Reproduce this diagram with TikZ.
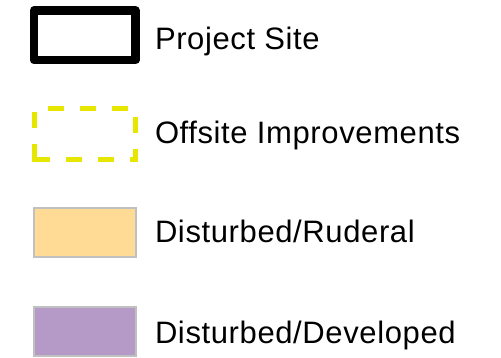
\documentclass[tikz,border=0pt]{standalone}
\usepackage{fontspec}
\setmainfont{Liberation Sans}[LetterSpace=2]
\definecolor{siteline}{RGB}{0,0,0}
\definecolor{offsiteyellow}{RGB}{230,230,0}
\definecolor{ruderalfill}{RGB}{255,219,150}
\definecolor{developedfill}{RGB}{181,154,199}
\definecolor{swatchedge}{RGB}{192,192,192}
\tikzset{
  swatch/.style={rectangle, inner sep=0pt, outer sep=0pt,
    minimum width=#1, anchor=north west},
  sitebox/.style={swatch=101.5pt, minimum height=49.5pt, draw=siteline,
    line width=8.5pt, line join=round},
  offsitebox/.style={swatch=101pt, minimum height=51pt},
  offsitedash/.style={draw=offsiteyellow, line width=5pt,
    line cap=butt, line join=miter},
  fillbox/.style={swatch=102pt, minimum height=49pt, draw=swatchedge,
    line width=2pt, fill=#1},
  legendtext/.style={anchor=base west, inner sep=0pt, outer sep=0pt,
    font=\fontsize{31pt}{36pt}\selectfont, text=black},
}
\begin{document}
\begin{tikzpicture}[x=1pt, y=-1pt]
  \useasboundingbox (0,0) rectangle (501,357);

  % swatches
  \node[sitebox] (site) at (34,10.5) {};
  \node[offsitebox] (offsite) at (34.5,108.5) {};
  % dashed outline of the offsite swatch, one dash at a time
  \begin{scope}[offsitedash]
    % top edge
    \draw (48,108.5) -- (64,108.5);
    \draw (80,108.5) -- (96,108.5);
    \draw (112,108.5) -- (128,108.5);
    % right edge and lower right corner
    \draw (135.5,117) -- (135.5,133);
    \draw (135.5,149) -- (135.5,159.5) -- (130,159.5);
    % bottom edge and lower left corner
    \draw (114,159.5) -- (98,159.5);
    \draw (82,159.5) -- (66,159.5);
    \draw (50,159.5) -- (34.5,159.5) -- (34.5,143.5);
    % left edge
    \draw (34.5,127.5) -- (34.5,111.5);
  \end{scope}
  \node[fillbox=ruderalfill] (ruderal) at (34,208) {};
  \node[fillbox=developedfill] (developed) at (34,306.5) {};

  % labels
  \node[legendtext] (sitelabel) at (155,49) {Project Site};
  \node[legendtext] (offsitelabel) at (155,143) {Offsite Improvements};
  \node[legendtext] (ruderallabel) at (155,242) {Disturbed/Ruderal};
  \node[legendtext] (developedlabel) at (155,343) {Disturbed/Developed};
\end{tikzpicture}
\end{document}
